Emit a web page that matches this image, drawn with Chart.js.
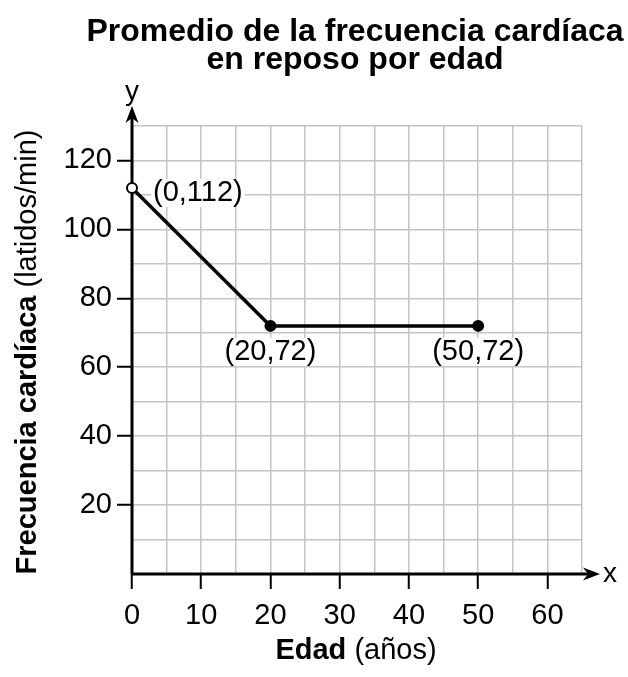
<!DOCTYPE html>
<html>
<head>
<meta charset="utf-8">
<script src="https://cdn.jsdelivr.net/npm/chart.js@4.4.3/dist/chart.umd.min.js"></script>
<style>
  body { margin: 0; background: #fff; }
  #wrap { width: 628px; height: 677px; }
</style>
</head>
<body>
<div id="wrap"><canvas id="hrChart"></canvas></div>
<script>
const ages = [0, 20, 50];
const heartRates = [112, 72, 72];
const openPoints = [true, false, false];
const xTickLabels = [0, 10, 20, 30, 40, 50, 60];
const yTickLabels = [20, 40, 60, 80, 100, 120];
const titleLines = ['Promedio de la frecuencia cardíaca', 'en reposo por edad'];
const xTitle = ['Edad', ' (años)'];
const yTitle = ['Frecuencia cardíaca', ' (latidos/min)'];

const FONT = '"Liberation Sans", Arial, Helvetica, sans-serif';
const gridGray = '#c4c4c4';

// grid lines every `step` units between min and max
const gridTicks = step => scale => {
  const ticks = [];
  for (let v = scale.min; v <= scale.max; v += step) ticks.push({ value: v });
  scale.ticks = ticks;
};

// draw bold + normal pieces as one centered string
function mixedText(ctx, parts, cx, cy, size) {
  ctx.font = `bold ${size}px ${FONT}`;
  const w1 = ctx.measureText(parts[0]).width;
  ctx.font = `${size}px ${FONT}`;
  const w2 = ctx.measureText(parts[1]).width;
  let x = cx - (w1 + w2) / 2;
  ctx.textAlign = 'left';
  ctx.textBaseline = 'middle';
  ctx.font = `bold ${size}px ${FONT}`;
  ctx.fillText(parts[0], x, cy);
  ctx.font = `${size}px ${FONT}`;
  ctx.fillText(parts[1], x + w1, cy);
}

// where each point label goes
function labelBoxes(chart) {
  const { ctx } = chart;
  const meta = chart.getDatasetMeta(0);
  ctx.save();
  ctx.font = `29px ${FONT}`;
  const boxes = meta.data.map((pt, i) => {
    const text = `(${ages[i]},${heartRates[i]})`;
    const w = ctx.measureText(text).width;
    if (i === 0) return { text, w, left: pt.x + 21, cy: pt.y + 5 };
    return { text, w, left: pt.x - w / 2, cy: pt.y + 26 };
  });
  ctx.restore();
  return boxes;
}

const axesPlugin = {
  id: 'axesPlugin',
  beforeDatasetsDraw(chart) {
    const { ctx, scales: { x, y } } = chart;
    const x0 = x.getPixelForValue(0);
    const y0 = y.getPixelForValue(0);
    const xEnd = x.right + 18;
    const yEnd = y.top - 20;
    ctx.save();
    // white boxes behind the point labels hide the grid
    ctx.fillStyle = '#fff';
    labelBoxes(chart).forEach(b => ctx.fillRect(b.left - 2, b.cy - 14, b.w + 4, 28));
    ctx.strokeStyle = '#000';
    ctx.fillStyle = '#000';
    ctx.lineWidth = 3;
    ctx.beginPath();
    ctx.moveTo(x0, y0);
    ctx.lineTo(xEnd - 8, y0);
    ctx.moveTo(x0, y0);
    ctx.lineTo(x0, yEnd + 8);
    ctx.stroke();
    // arrow heads
    ctx.beginPath();
    ctx.moveTo(xEnd, y0);
    ctx.lineTo(xEnd - 17, y0 - 6.5);
    ctx.lineTo(xEnd - 12, y0);
    ctx.lineTo(xEnd - 17, y0 + 6.5);
    ctx.closePath();
    ctx.fill();
    ctx.beginPath();
    ctx.moveTo(x0, yEnd);
    ctx.lineTo(x0 - 6.5, yEnd + 17);
    ctx.lineTo(x0, yEnd + 12);
    ctx.lineTo(x0 + 6.5, yEnd + 17);
    ctx.closePath();
    ctx.fill();
    ctx.font = `28px ${FONT}`;
    ctx.textAlign = 'center';
    ctx.textBaseline = 'middle';
    ctx.fillText('x', xEnd + 10, y0);
    ctx.fillText('y', x0, yEnd - 14);
    ctx.restore();
  },
  afterDatasetsDraw(chart) {
    const { ctx } = chart;
    ctx.save();
    ctx.font = `29px ${FONT}`;
    ctx.textBaseline = 'middle';
    ctx.textAlign = 'left';
    ctx.fillStyle = '#000';
    labelBoxes(chart).forEach(b => ctx.fillText(b.text, b.left, b.cy));
    ctx.restore();
  },
  afterDraw(chart) {
    const { ctx, chartArea } = chart;
    ctx.save();
    ctx.fillStyle = '#000';
    ctx.font = `bold 32px ${FONT}`;
    ctx.textAlign = 'center';
    ctx.textBaseline = 'alphabetic';
    const cx = (chartArea.left + chartArea.right) / 2 - 2;
    ctx.fillText(titleLines[0], cx, 41);
    ctx.fillText(titleLines[1], cx, 69);
    mixedText(ctx, xTitle, cx + 1, 651, 29);
    ctx.translate(28, 352);
    ctx.rotate(-Math.PI / 2);
    mixedText(ctx, yTitle, 0, 0, 29);
    ctx.restore();
  }
};

new Chart(document.getElementById('hrChart'), {
  type: 'line',
  data: {
    datasets: [{
      data: ages.map((a, i) => ({ x: a, y: heartRates[i] })),
      borderColor: '#000',
      borderWidth: 3.5,
      tension: 0,
      pointRadius: 5,
      pointBorderWidth: 2,
      pointBorderColor: '#000',
      pointBackgroundColor: openPoints.map(o => o ? '#fff' : '#000'),
      clip: false
    }]
  },
  options: {
    responsive: true,
    maintainAspectRatio: false,
    animation: false,
    layout: { padding: { top: 126, right: 46, left: 0, bottom: 0 } },
    plugins: {
      legend: { display: false },
      tooltip: { enabled: false },
      title: { display: false }
    },
    scales: {
      x: {
        type: 'linear',
        min: 0,
        max: 65,
        afterFit: s => { s.height = 103; },
        afterBuildTicks: gridTicks(5),
        border: { display: false },
        grid: {
          color: gridGray,
          lineWidth: 1.5,
          tickLength: 15,
          tickWidth: 2,
          tickColor: c => xTickLabels.includes(c.tick.value) ? '#000' : 'rgba(0,0,0,0)'
        },
        ticks: {
          autoSkip: false,
          maxRotation: 0,
          padding: 10,
          color: '#000',
          font: { family: FONT, size: 29 },
          callback: v => xTickLabels.includes(v) ? String(v) : ''
        }
      },
      y: {
        type: 'linear',
        min: 0,
        max: 130,
        afterFit: s => { s.width = 132; },
        afterBuildTicks: gridTicks(10),
        border: { display: false },
        grid: {
          color: gridGray,
          lineWidth: 1.5,
          tickLength: 15,
          tickWidth: 2,
          tickColor: c => yTickLabels.includes(c.tick.value) ? '#000' : 'rgba(0,0,0,0)'
        },
        ticks: {
          autoSkip: false,
          padding: 5,
          color: '#000',
          font: { family: FONT, size: 29 },
          callback: v => yTickLabels.includes(v) ? String(v) : ''
        }
      }
    }
  },
  plugins: [axesPlugin]
});
</script>
</body>
</html>
